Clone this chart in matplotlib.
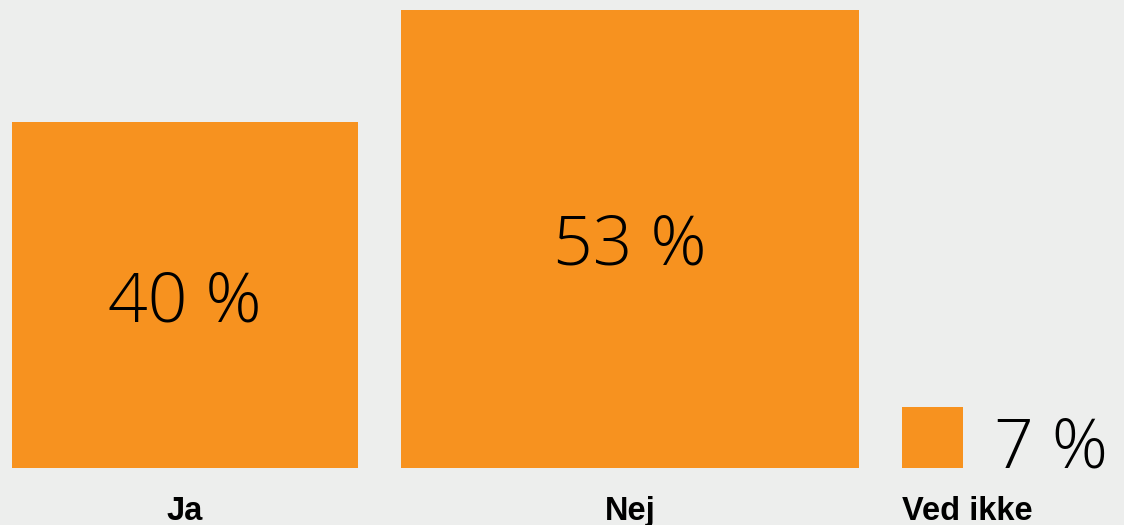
import matplotlib.pyplot as plt
from matplotlib.patches import Rectangle

categories = ['Ja', 'Nej', 'Ved ikke']
values = [40, 53, 7]
value_labels = ['40 %', '53 %', '7 %']

bg = '#EDEEED'
orange = '#F7921F'

px_per_pct = 8.65  # side of each square is proportional to its share
left = 12
gap = 43
base = 468

fig = plt.figure(figsize=(11.24, 5.25), dpi=100, facecolor=bg)
ax = fig.add_axes([0, 0, 1, 1])
ax.set_facecolor(bg)
ax.set_xlim(0, 1124)
ax.set_ylim(525, 0)
ax.axis('off')

pct_font = dict(fontsize=50, family='Open Sans', weight='light', color='black')
cat_font = dict(fontsize=23.5, family='Liberation Sans', weight='bold')

x = left
for cat, val, lab in zip(categories, values, value_labels):
    side = val * px_per_pct
    ax.add_patch(Rectangle((x, base - side), side, side, color=orange, lw=0))
    if val >= 20:
        # baseline sits ~half a digit height below the square centre
        ax.text(x + side / 2, base - side / 2 + 26, lab, ha='center', va='baseline', **pct_font)
        ax.text(x + side / 2, 520, cat, ha='center', va='baseline', **cat_font)
    else:
        ax.text(x + side + 31, base, lab, ha='left', va='baseline', **pct_font)
        ax.text(x, 520, cat, ha='left', va='baseline', **cat_font)
    x += side + gap

fig.savefig('out.png', dpi=100, facecolor=bg)
